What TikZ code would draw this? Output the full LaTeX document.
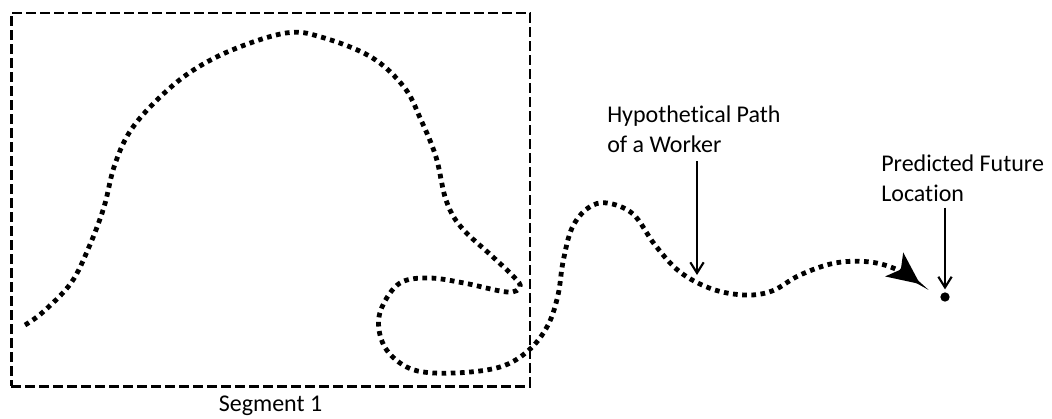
\documentclass[tikz,border=0pt]{standalone}
\usepackage{fontspec}
\setmainfont[Ligatures=NoCommon]{Carlito}
\usepackage{tikz}
\usetikzlibrary{arrows.meta, positioning}

\begin{document}
\begin{tikzpicture}[
    x=0.75pt, y=-0.75pt,
    lbl/.style={inner sep=0pt, align=left, font=\fontsize{18}{22.5}\selectfont},
    segbox/.style={rectangle, draw, line width=2pt,
                   dash pattern=on 7.5pt off 3pt,
                   minimum width=389pt, minimum height=280pt, inner sep=0pt},
    trail/.style={line width=3.6pt, dash pattern=on 3.5pt off 3.4pt,
                  -{Stealth[length=24pt, width=22pt, inset=6pt]}},
    arr/.style={-{Straight Barb[length=8pt, width=10pt]}, line width=1.6pt},
  ]
    \useasboundingbox (0,0) rectangle (1052,418);

    % Segment box
    \node[segbox] (seg) at (270.5,199.5) {};
    \node[lbl, below=6pt of seg] (seglbl) {Segment 1};

    % Worker path
    \draw[trail] plot[smooth, tension=0.6] coordinates {
      (25,325) (43,312) (71,283) (89,247) (104,207) (114,167) (129,133)
      (154,103) (189,73) (232,50) (286,33) (321,37) (371,57) (404,87)
      (421,120) (436,157) (446,200) (461,227) (493,257) (514,277) (520,287)
      (507,292) (464,283) (429,278) (400,283) (382,307) (379,330)
      (389,353) (414,370) (454,373) (500,367) (529,350) (548,325)
      (558,295) (563,262) (572,228) (588,208) (607,203) (633,214)
      (655,245) (680,272) (712,289) (745,295) (772,291) (800,275)
      (835,263) (870,262) (898,270) (920,284)};

    % Labels
    \node[lbl, anchor=north west] (worker) at (607,106) {Hypothetical Path\\of a Worker};
    \node[lbl, anchor=north west] (pred) at (881,155) {Predicted Future\\Location};

    % Predicted location
    \node[circle, fill, inner sep=0pt, minimum size=7pt] (loc) at (945,297) {};
    \coordinate (wtip) at (697,275);

    % Arrows
    \draw[arr, shorten <=6pt] (worker.south -| wtip) -- (wtip);
    \draw[arr, shorten <=4pt, shorten >=2pt] (pred.south -| loc) -- (loc.north);
\end{tikzpicture}
\end{document}
